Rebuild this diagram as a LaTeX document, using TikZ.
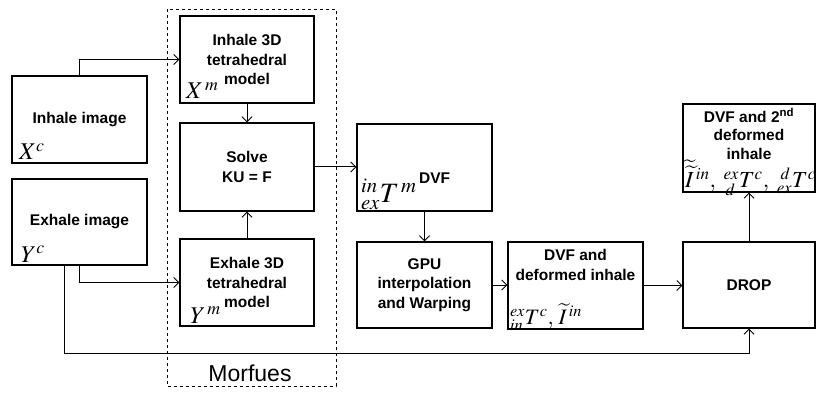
\documentclass[tikz,border=0pt]{standalone}
\usepackage{mathptmx}
\usepackage{fontspec}
\setmainfont{Liberation Sans}
\usetikzlibrary{arrows.meta}

\newcommand{\mfont}[1]{\fontsize{#1}{#1}\selectfont}

\begin{document}
\begin{tikzpicture}[x=1pt,y=-1pt,
  box/.style={draw,line width=1.1pt,inner sep=0pt,align=center,
    font=\bfseries\fontsize{15.5}{19.5}\selectfont},
  lbl/.style={inner sep=0pt,anchor=base west},
  arr/.style={line width=1pt,-{Straight Barb[length=5pt,width=10pt]}}]
\useasboundingbox (0,0) rectangle (817,393);

% Morfues frame
\draw[dashed,line width=0.9pt] (167,9) rectangle (336,386);
\node (morf) at (250,373) {\fontsize{23}{23}\selectfont Morfues};

% input images
\node[box,minimum width=135,minimum height=87] (inimg) at (79.5,119.5) {Inhale image};
\node[box,minimum width=135,minimum height=86] (eximg) at (79.5,222) {Exhale image};
\node[lbl] (xc) at (19,160) {\mfont{24}$X^{c}$};
\node[lbl] (yc) at (21,262) {\mfont{24}$Y^{c}$};

% Morfues blocks
\node[box,minimum width=134,minimum height=87] (inmod) at (247,59.5) {Inhale 3D\\tetrahedral\\model};
\node[box,minimum width=134,minimum height=88] (solve) at (247,167) {Solve\\KU = F};
\node[box,minimum width=134,minimum height=87] (exmod) at (247,282.5) {Exhale 3D\\tetrahedral\\model};
\node[lbl] (xm) at (186,99) {\mfont{24}$X^{\,m}$};
\node[lbl] (ym) at (190,323) {\mfont{24}$Y^{\,m}$};

% DVF and warping
\node[box,minimum width=135,minimum height=87] (dvf) at (424.5,167.5) {};
\node[lbl,font=\bfseries\fontsize{15.5}{19.5}\selectfont] (dvft) at (361,203)
  {{\mfont{28}${}^{in}_{ex}T^{\,m}$}\,\raisebox{20pt}{DVF}};
\node[box,minimum width=135,minimum height=86] (gpu) at (424.5,285) {GPU\\interpolation\\and Warping};
\node[box,minimum width=135,minimum height=87] (dfin) at (575.5,285.5) {};
\node[box,draw=none,anchor=north] (dfint) at (575.5,249) {DVF and\\deformed inhale};
\node[lbl] (dfinm) at (510,324) {\mfont{22}${}^{ex}_{in}T^{c},\,\widetilde{I}{}^{\,in}$};

% DROP and result
\node[box,minimum width=132,minimum height=86] (drop) at (749,285) {DROP};
\node[box,minimum width=132,minimum height=88] (dvf2) at (749,148) {};
\node[box,draw=none,anchor=north,font=\bfseries\fontsize{15.5}{18.5}\selectfont] (dvf2t) at (749,108)
  {DVF and 2\textsuperscript{nd}\\deformed\\inhale};
\node[lbl] (dvf2m) at (685,188)
  {\mfont{23}$\widetilde{\widetilde{I}}{}^{\,in},\;{}^{ex}_{\,d}T^{c},\;{}^{\;d}_{ex}T^{c}$};

% connectors
\coordinate (bus) at (64,353);
\draw[arr] (inimg.north) |- (inmod.west);
\draw[arr] (eximg.south) |- (exmod.west);
\draw[arr] (inmod.south) -- (solve.north);
\draw[arr] (exmod.north) -- (solve.south);
\draw[arr] (solve.east) -- (solve.east -| dvf.west);
\draw[arr] (dvf.south) -- (gpu.north);
\draw[arr] (gpu.east) -- (gpu.east -| dfin.west);
\draw[arr] (dfin.east) -- (dfin.east -| drop.west);
\draw[arr] (drop.north) -- (dvf2.south);
\draw[arr] (bus |- eximg.south) -- (bus) -| (drop.south);
\end{tikzpicture}
\end{document}
